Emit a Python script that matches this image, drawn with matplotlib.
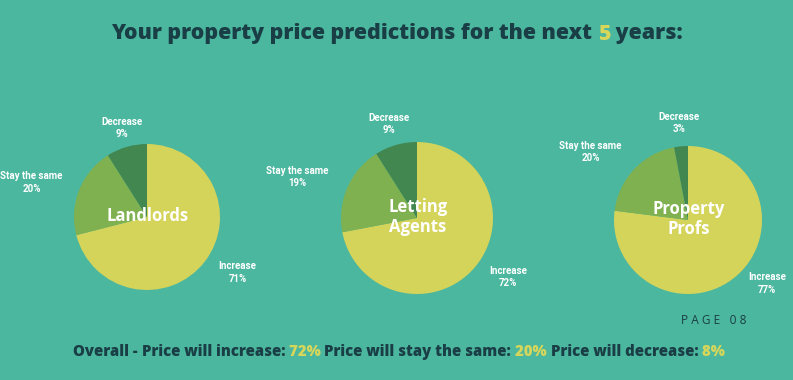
import matplotlib
matplotlib.use("Agg")
import matplotlib.pyplot as plt

# ---- data ----
groups = ["Landlords", "Letting\nAgents", "Property\nProfs"]
categories = ["Increase", "Stay the same", "Decrease"]
increase = [71, 72, 77]
stay_same = [20, 19, 20]
decrease = [9, 9, 3]
overall_labels = ["Price will increase:", "Price will stay the same:", "Price will decrease:"]
overall_values = [72, 20, 8]
title_years = 5

# ---- style ----
BG = "#4bb79f"
DARK = "#1a3e45"
YELLOW = "#d6d65b"
COLORS = ["#d4d35a", "#80b150", "#42874f"]
W, H = 793, 380

# layout (pixel coords, y from top)
centers = [(147, 217), (417, 218), (688, 220)]
radii = [73, 76, 74]
# label offsets in units of pie radius (x right, y up): Increase, Stay, Decrease
label_offsets = [
    [(1.24, -0.76), (-1.58, 0.47), (-0.35, 1.22)],
    [(1.20, -0.78), (-1.58, 0.54), (-0.37, 1.24)],
    [(1.07, -0.86), (-1.32, 0.92), (-0.12, 1.31)],
]

fig = plt.figure(figsize=(W / 100, H / 100), dpi=100, facecolor=BG)
ax = fig.add_axes([0, 0, 1, 1])
ax.set_facecolor(BG)

for i, g in enumerate(groups):
    vals = [increase[i], stay_same[i], decrease[i]]
    cx, cy = centers[i]
    c = (cx, H - cy)
    r = radii[i]
    ax.pie(vals, colors=COLORS, startangle=90, counterclock=False,
           center=c, radius=r, wedgeprops=dict(linewidth=0))
    for j, cat in enumerate(categories):
        ox, oy = label_offsets[i][j]
        ax.text(c[0] + ox * r, c[1] + oy * r, f"{cat}\n{vals[j]}%",
                ha="center", va="center", color="white", fontsize=7,
                fontweight="bold", family="Roboto", linespacing=1.3)
    ax.text(c[0] + 1, c[1] + 1, g, ha="center", va="center", color="white",
            fontsize=12, fontweight="bold", family="Open Sans", linespacing=1.15)

ax.set_xlim(0, W)
ax.set_ylim(0, H)
ax.set_aspect("equal")
ax.axis("off")

renderer = fig.canvas.get_renderer()


def multicolor(pieces, y, fontsize, family, cx=None, x0=None, weight="bold"):
    texts = []
    widths = []
    for s, col in pieces:
        t = ax.text(0, y, s, color=col, fontsize=fontsize, fontweight=weight,
                    family=family, ha="left", va="center")
        bb = t.get_window_extent(renderer=renderer)
        texts.append(t)
        widths.append(bb.width)
    total = sum(widths)
    x = (cx - total / 2) if cx is not None else x0
    for t, w in zip(texts, widths):
        t.set_x(x)
        x += w


multicolor([("Your property price predictions for the next ", DARK),
            (f"{title_years}", YELLOW), (" years:", DARK)],
           H - 34, 15.4, "Open Sans", cx=397, weight="heavy")

bottom = [("Overall - ", DARK)]
for lab, v in zip(overall_labels, overall_values):
    bottom.append((lab + " ", DARK))
    bottom.append((f"{v}% ", YELLOW))
multicolor(bottom, H - 352, 10.7, "Open Sans", x0=73, weight="heavy")

ax.text(714, H - 321, "P A G E   0 8", ha="center", va="center", color=DARK,
        fontsize=8.6, family="Open Sans", fontweight="medium")

fig.savefig("out.png", dpi=100, facecolor=BG)
